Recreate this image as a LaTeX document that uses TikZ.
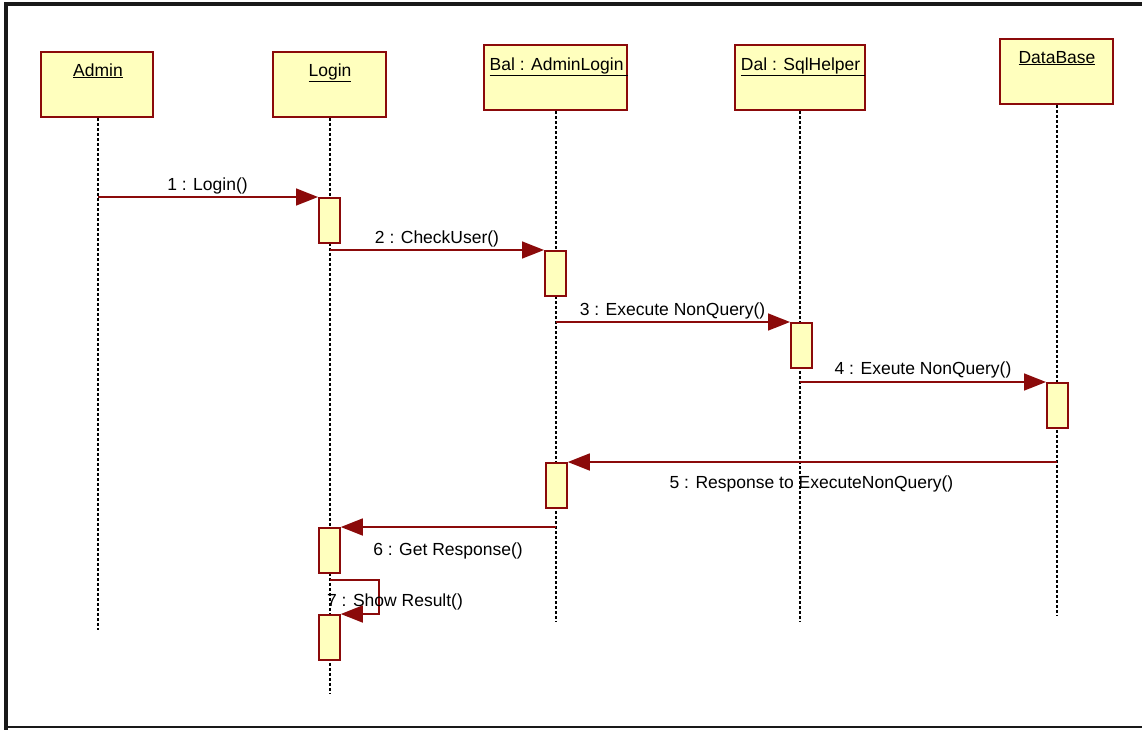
\documentclass[tikz,border=0pt]{standalone}
\usepackage{fontspec}
\setmainfont{Liberation Sans}
\usetikzlibrary{arrows.meta}
\definecolor{umlred}{HTML}{8B0A0A}
\definecolor{umlfill}{HTML}{FFFFBE}
\tikzset{
  objbox/.style={draw=umlred, fill=umlfill, line width=1.8pt, minimum width=#1, minimum height=65, inner sep=0pt, anchor=north west},
  objlabel/.style={anchor=base, inner sep=0pt, font=\fontsize{17.5}{20}\selectfont},
  actbox/.style={draw=umlred, fill=umlfill, line width=1.8pt, minimum width=21, minimum height=45, inner sep=0pt, anchor=north west},
  lifeline/.style={draw=black, line width=1.4pt, dash pattern=on 3pt off 2pt},
  msg/.style={draw=umlred, line width=1.6pt, -{Triangle[length=22pt, width=17pt]}},
  msglabel/.style={anchor=base, inner sep=0pt, font=\fontsize{17.5}{20}\selectfont},
  frameline/.style={draw=black!90, line cap=rect},
}
\begin{document}
\begin{tikzpicture}[x=1pt, y=-1pt]
\useasboundingbox (0,0) rectangle (1142,729);
% outer frame
\draw[frameline, line width=3.5pt] (6,728) -- (6,4) -- (1142,4);
\draw[frameline, line width=2pt] (6,727) -- (1142,727);

% lifeline end points
\coordinate (adminEnd) at (98,630);
\coordinate (loginEnd) at (330,693);
\coordinate (balEnd) at (556,622);
\coordinate (dalEnd) at (800,622);
\coordinate (dbEnd) at (1057,616);

% object heads
\node[objbox=112] (admin) at (40,51) {};
\node[objbox=113] (login) at (272,51) {};
\node[objbox=143] (bal) at (483,44) {};
\node[objbox=130] (dal) at (734,44) {};
\node[objbox=113] (db) at (999,38) {};
\node[objlabel] (adminL) at (98,76) {\underline{Admin}};
\node[objlabel] (loginL) at (330,76) {\underline{Login}};
\node[objlabel] (balL) at (559,70) {\underline{Bal : AdminLogin\ }};
\node[objlabel] (dalL) at (803,70) {\underline{Dal : SqlHelper\ }};
\node[objlabel] (dbL) at (1057,63) {\underline{DataBase}};

% lifelines
\draw[lifeline] (adminEnd |- admin.south) -- (adminEnd);
\draw[lifeline] (loginEnd |- login.south) -- (loginEnd);
\draw[lifeline] (balEnd |- bal.south) -- (balEnd);
\draw[lifeline] (dalEnd |- dal.south) -- (dalEnd);
\draw[lifeline] (dbEnd |- db.south) -- (dbEnd);

% activations
\node[actbox] (loginA1) at (318,197) {};
\node[actbox] (balA1) at (544,250) {};
\node[actbox] (dalA1) at (790,322) {};
\node[actbox] (dbA1) at (1046,382) {};
\node[actbox] (balA2) at (545,462) {};
\node[actbox] (loginA2) at (318,527) {};
\node[actbox] (loginA3) at (318,614) {};

% messages
\draw[msg] (loginA1.north west -| adminEnd) -- (loginA1.north west);
\draw[msg] (balA1.north west -| loginEnd) -- (balA1.north west);
\draw[msg] (dalA1.north west -| balEnd) -- (dalA1.north west);
\draw[msg] (dbA1.north west -| dalEnd) -- (dbA1.north west);
\draw[msg] (balA2.north east -| dbEnd) -- (balA2.north east);
\draw[msg] (loginA2.north east -| balEnd) -- (loginA2.north east);
\coordinate (selfStart) at (330,580);
\draw[msg] (selfStart) -- ++(49,0) |- (loginA3.north east);

% message labels
\node[msglabel] (l1) at (207.5,190) {1 : Login()};
\node[msglabel] (l2) at (437,243) {2 : CheckUser()};
\node[msglabel] (l3) at (672.5,315) {3 : Execute NonQuery()};
\node[msglabel] (l4) at (923,374) {4 : Exeute NonQuery()};
\node[msglabel] (l5) at (811.5,488) {5 : Response to ExecuteNonQuery()};
\node[msglabel] (l6) at (448,555) {6 : Get Response()};
\node[msglabel] (l7) at (395,606) {7 : Show Result()};
\end{tikzpicture}
\end{document}
